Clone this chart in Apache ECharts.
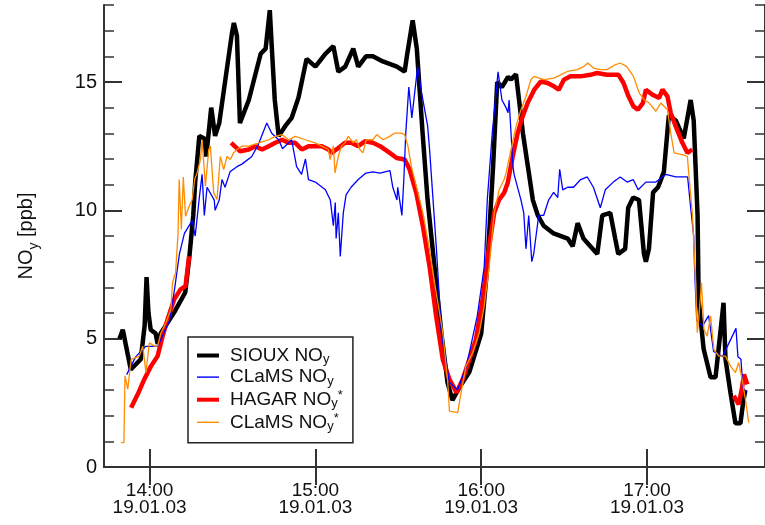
<!DOCTYPE html>
<html lang="en">
<head>
    <meta charset="UTF-8">
    <title>NOy 19.01.03</title>
    <style>
        html, body { margin: 0; padding: 0; background: #fff; }
        #main { width: 765px; height: 525px; }
    </style>
    <script src="https://cdn.jsdelivr.net/npm/echarts@6/dist/echarts.min.js"></script>
</head>
<body>
<div id="main"></div>
<script type="text/javascript">
    // time = minutes since 00:00 (UTC), value = NOy in ppb
    var xTicks = [840, 900, 960, 1020];
    var xTickLabels = ['14:00', '15:00', '16:00', '17:00'];
    var dateLabel = '19.01.03';
    var yMajor = [0, 5, 10, 15];
    var legendNames = ['SIOUX NO_y', 'CLaMS NO_y', 'HAGAR NO_y*', 'CLaMS NO_y*'];

    var siouxData = [
        [829.1,5.0],[830.3,5.35],[833.2,3.8],[836.8,4.2],[838.2,5.5],[838.9,7.4],[839.6,6.0],[840.4,5.35],
        [842.2,5.2],[842.9,4.8],[844.0,5.2],[849.3,6.1],[852.9,6.8],[854.4,8.2],[855.8,9.8],[856.5,11.1],
        [858.0,12.9],[859.8,12.8],[860.5,12.1],[862.3,14.0],[863.7,12.9],[865.2,13.4],[867.3,15.0],[869.8,16.9],
        [870.5,17.3],[871.6,16.8],[872.7,13.4],[875.9,14.3],[880.2,16.1],[882.0,16.3],[883.5,17.8],[884.2,16.4],
        [885.3,14.3],[886.7,12.9],[889.2,13.3],[891.4,13.6],[893.9,14.4],[896.8,15.9],[900.0,15.6],[903.6,16.1],
        [906.5,16.4],[908.3,15.4],[910.8,15.6],[913.7,16.3],[915.5,15.6],[918.3,16.0],[920.8,16.0],[924.4,15.8],
        [929.5,15.6],[932.3,15.4],[933.1,16.0],[935.2,17.4],[936.7,16.3],[938.8,13.0],[940.6,10.4],[943.1,7.8],
        [945.6,5.2],[947.8,3.3],[949.6,2.6],[952.1,3.1],[955.7,3.7],[960.0,5.2],[962.2,7.8],[964.3,11.7],
        [965.8,15.0],[967.5,14.8],[969.7,15.2],[970.8,15.1],[972.6,15.3],[973.7,14.3],[975.1,13.0],[976.9,11.7],
        [978.7,10.4],[980.5,9.8],[982.6,9.4],[986.2,9.1],[991.3,8.9],[993.1,8.6],[994.9,9.5],[997.0,8.9],
        [1002.0,8.3],[1003.8,9.8],[1006.7,9.9],[1008.5,8.9],[1009.6,8.3],[1012.1,8.5],[1013.2,10.1],[1015.0,10.5],
        [1017.1,10.4],[1018.9,8.3],[1019.6,8.0],[1020.7,8.5],[1022.2,10.7],[1024.0,10.9],[1026.1,11.5],[1027.9,13.7],
        [1030.4,13.5],[1033.3,12.8],[1035.8,14.3],[1036.9,13.5],[1038.3,9.8],[1038.7,6.5],[1040.5,4.6],[1043.0,3.5],
        [1044.8,3.5],[1045.9,4.6],[1047.7,6.4],[1048.4,4.2],[1050.2,2.9],[1052.0,1.7],[1053.8,1.7],[1054.9,2.6],
        [1055.6,3.0]
    ];

    var clamsData = [
        [831.7,3.6],[835.0,4.3],[838.6,4.7],[842.9,4.7],[847.2,5.7],[849.0,6.9],[850.8,8.3],[852.6,9.1],
        [855.4,9.6],[856.5,9.0],[858.0,10.5],[859.0,11.4],[859.8,9.8],[860.8,10.9],[863.4,10.4],[863.7,10.0],
        [865.2,10.4],[866.2,11.2],[867.3,10.9],[869.1,11.5],[871.6,11.7],[873.4,11.8],[877.0,12.1],[879.5,12.6],
        [882.4,13.4],[884.2,13.0],[886.7,12.75],[888.1,12.4],[891.4,12.75],[893.2,11.7],[895.0,11.4],[896.4,12.0],
        [897.5,11.2],[900.0,11.1],[903.6,10.8],[905.4,10.4],[906.5,9.4],[907.2,10.3],[907.5,8.9],[908.3,9.9],
        [909.0,8.2],[910.1,9.9],[911.1,10.6],[912.9,10.9],[915.5,11.2],[918.3,11.45],[920.8,11.5],[923.4,11.45],
        [927.0,11.55],[928.0,10.9],[929.5,10.4],[929.8,10.9],[931.3,9.8],[932.0,11.2],[932.7,13.0],[933.8,14.8],
        [934.9,13.6],[937.0,15.6],[938.4,14.6],[940.6,13.3],[941.3,12.4],[943.8,8.5],[945.6,5.2],[948.5,3.3],
        [951.4,3.0],[954.6,3.9],[956.4,4.8],[958.6,5.9],[961.1,7.8],[962.2,10.4],[964.0,13.0],[966.1,15.4],
        [967.5,14.3],[969.0,14.0],[969.7,13.8],[970.1,14.3],[971.5,11.7],[971.9,11.4],[974.4,10.4],[975.4,9.9],
        [976.2,8.5],[977.2,9.8],[978.3,8.0],[979.0,8.3],[980.8,9.8],[982.6,9.8],[984.4,10.4],[986.2,10.7],
        [987.7,10.5],[988.4,11.6],[989.5,10.8],[991.3,10.9],[993.4,10.9],[996.0,11.2],[998.4,11.3],[1000.6,10.9],
        [1003.1,10.1],[1004.9,10.8],[1007.8,11.1],[1010.3,11.3],[1012.8,11.1],[1015.0,11.2],[1016.8,10.8],[1019.6,11.1],
        [1023.2,11.1],[1026.8,11.4],[1030.4,11.3],[1034.7,11.3],[1035.8,10.1],[1036.9,9.0],[1037.2,7.8],[1038.0,5.7],
        [1040.1,5.5],[1042.3,5.9],[1044.1,4.5],[1047.3,4.3],[1052.2,5.4],[1052.9,4.3],[1054.0,4.2],[1054.7,3.1],
        [1056.1,2.9]
    ];

    var hagarData = [
        [833.3,2.31],[835.7,2.83],[838.1,3.42],[840.5,3.93],[842.9,4.32],[844.7,5.1],[846.5,5.75],[848.9,6.53],
        [851.2,6.92],[853.0,7.05],[854.3,8.21],[862.0,null],
        [869.5,12.63],[872.8,12.3],[875.9,12.37],[878.3,12.5],[880.7,12.37],[883.1,12.5],[885.5,12.63],[887.9,12.75],
        [890.3,12.63],[892.7,12.63],[895.1,12.37],[897.5,12.5],[899.9,12.5],[902.3,12.5],[904.7,12.37],[905.9,12.24],
        [908.3,12.43],[910.7,12.63],[913.0,12.63],[915.5,12.5],[917.9,12.69],[920.8,12.63],[923.4,12.5],[926.9,12.24],
        [929.4,12.04],[932.3,11.98],[934.1,11.59],[936.5,10.68],[938.9,9.38],[941.3,7.82],[943.7,5.88],[946.1,4.19],
        [948.5,3.42],[951.1,2.9],[953.3,3.42],[955.7,4.19],[958.1,4.97],[960.5,6.53],[962.9,8.6],[964.7,9.9],
        [966.5,10.42],[968.3,10.68],[969.6,11.07],[971.4,12.1],[973.2,13.01],[975.0,13.66],[976.8,14.18],[979.2,14.7],
        [981.6,15.02],[984.0,14.96],[986.3,14.83],[988.1,14.7],[989.9,15.09],[992.3,15.22],[995.9,15.22],[999.5,15.28],
        [1001.9,15.35],[1005.5,15.28],[1009.7,15.28],[1011.5,14.96],[1013.3,14.44],[1015.1,14.05],[1016.7,13.92],[1018.5,14.18],
        [1019.6,14.7],[1022.0,14.5],[1024.4,14.38],[1025.6,14.7],[1027.4,14.44],[1028.6,13.79],[1030.4,13.27],[1032.8,12.63],
        [1034.6,12.24],[1036.4,12.37],[1044.0,null],
        [1051.4,2.77],[1053.2,2.44],[1054.3,3.03],[1055.1,3.61],[1056.3,3.22]
    ];

    var clamsStarData = [
        [829.7,0.95],[830.7,0.95],[831.1,3.55],[832.1,3.03],[833.3,4.19],[836.3,4.32],[837.5,4.71],[838.7,3.68],
        [839.9,4.84],[841.7,4.71],[842.9,4.71],[844.1,5.23],[845.9,5.62],[847.7,6.14],[848.3,7.18],[849.4,7.57],
        [850.3,9.12],[850.7,11.2],[851.5,9.25],[852.2,11.3],[853.0,9.77],[854.3,10.16],[855.4,10.4],[856.3,11.2],
        [857.2,11.46],[858.4,11.98],[859.0,12.75],[860.2,10.94],[861.4,12.37],[862.0,12.5],[863.2,10.68],[864.4,10.42],
        [865.6,12.1],[866.8,11.59],[868.0,12.1],[869.2,11.98],[870.4,12.24],[871.6,12.37],[873.4,12.5],[875.9,12.5],
        [879.5,12.63],[883.1,12.75],[885.5,12.88],[887.9,12.95],[890.3,12.75],[892.7,12.88],[896.3,12.75],[899.9,12.63],
        [902.3,12.5],[904.7,12.37],[905.3,11.98],[906.5,12.5],[907.1,11.46],[908.3,12.1],[909.4,12.5],[910.7,12.63],
        [911.9,12.88],[913.7,12.63],[914.8,12.75],[916.1,12.37],[917.2,12.24],[918.4,12.75],[920.8,12.75],[922.2,12.95],
        [924.5,12.75],[926.9,12.88],[928.7,13.01],[931.1,13.01],[932.3,12.95],[933.5,12.5],[934.7,11.72],[936.5,10.94],
        [938.9,9.9],[941.3,8.47],[943.7,6.79],[946.1,5.23],[947.9,3.29],[948.5,2.18],[951.5,2.12],[952.7,2.9],
        [954.5,3.93],[956.9,4.45],[959.3,5.23],[961.1,6.27],[962.9,7.82],[964.7,9.9],[966.5,10.8],[968.3,11.2],
        [969.0,11.46],[970.8,12.37],[972.6,13.27],[974.4,13.92],[976.2,14.44],[978.0,15.09],[979.1,15.22],[982.7,15.09],
        [986.3,15.15],[988.7,15.28],[991.2,15.41],[994.7,15.48],[997.1,15.6],[998.6,15.74],[1000.7,15.54],[1003.1,15.48],
        [1005.5,15.48],[1008.5,15.67],[1010.3,15.74],[1012.7,15.6],[1015.1,15.22],[1017.2,14.57],[1019.0,14.31],[1020.8,14.18],
        [1023.2,13.86],[1025.0,14.18],[1027.4,13.92],[1028.6,13.01],[1029.8,12.24],[1032.8,12.17],[1034.6,12.1],[1035.2,11.33],
        [1036.4,9.9],[1037.6,7.18],[1038.2,5.23],[1038.8,5.88],[1039.7,7.18],[1040.6,5.36],[1041.8,5.1],[1043.0,5.88],
        [1044.2,4.58],[1046.0,4.32],[1048.4,4.32],[1050.2,3.93],[1052.0,3.68],[1053.2,4.07],[1054.4,3.42],[1055.6,2.64],
        [1056.8,1.73]
    ];

    var FONT = '"Liberation Sans", Arial, sans-serif';
    var AXIS_COLOR = '#333';
    var THICK_ICON = 'path://M0,0L22,0L22,4L0,4Z';
    var THIN_ICON = 'path://M0,0L22,0L22,1.4L0,1.4Z';

    var myChart = echarts.init(document.getElementById('main'), null, {renderer: 'canvas'});

    function legendText(name) {
        // 'HAGAR NO_y*' -> rich text with subscript y and raised star
        var star = name.charAt(name.length - 1) === '*';
        var base = name.replace('_y', '').replace('*', '');
        return '{t|' + base + '}{s|y}' + (star ? '{p|*}' : '');
    }

    var yCommon = {type: 'value', min: 0, max: 18, splitLine: {show: false}};

    var option = {
        backgroundColor: '#fff',
        animation: false,
        textStyle: {fontFamily: FONT},
        grid: {left: 104, top: 5, right: -5, bottom: 58},
        legend: {
            left: 188, top: 337,
            orient: 'vertical',
            backgroundColor: '#fff',
            borderColor: '#222', borderWidth: 1.5, borderRadius: 0,
            padding: [9, 10, 10, 9],
            itemWidth: 22, itemHeight: 12, itemGap: 1.6,
            symbolKeepAspect: true,
            data: [
                {name: legendNames[0], icon: THICK_ICON},
                {name: legendNames[1], icon: THIN_ICON},
                {name: legendNames[2], icon: THICK_ICON},
                {name: legendNames[3], icon: THIN_ICON}
            ],
            formatter: legendText,
            textStyle: {
                fontFamily: FONT, color: '#111', fontSize: 19,
                rich: {
                    t: {fontFamily: FONT, fontSize: 19, color: '#111', lineHeight: 21, padding: [0, 0, 0, 6]},
                    s: {fontFamily: FONT, fontSize: 13, color: '#111', lineHeight: 4, verticalAlign: 'bottom'},
                    p: {fontFamily: FONT, fontSize: 13, color: '#111', lineHeight: 4, verticalAlign: 'top'}
                }
            }
        },
        xAxis: [{
            type: 'value', position: 'bottom', min: 823.5, max: 1062.7,
            axisLine: {lineStyle: {color: AXIS_COLOR, width: 2}},
            axisTick: {inside: true, length: 18, customValues: xTicks, lineStyle: {color: AXIS_COLOR, width: 2}},
            axisLabel: {
                customValues: xTicks, margin: 15, color: '#111', fontFamily: FONT, fontSize: 19, lineHeight: 17,
                formatter: function (v) {
                    var i = xTicks.indexOf(v);
                    return (i < 0 ? '' : xTickLabels[i]) + '\n' + dateLabel;
                }
            },
            splitLine: {show: false}
        }, {
            type: 'value', position: 'top', min: 823.5, max: 1062.7,
            axisLine: {lineStyle: {color: AXIS_COLOR, width: 2}},
            axisTick: {inside: true, length: 18, customValues: xTicks, lineStyle: {color: AXIS_COLOR, width: 2}},
            axisLabel: {show: false},
            splitLine: {show: false}
        }],
        yAxis: [
            echarts.util.extend({
                position: 'left',
                name: '{a|NO}{b|y}{a| [ppb]}',
                nameLocation: 'middle', nameRotate: 90, nameGap: 68,
                nameTextStyle: {
                    rich: {
                        a: {fontFamily: FONT, fontSize: 20, color: '#111', lineHeight: 22, verticalAlign: 'bottom'},
                        b: {fontFamily: FONT, fontSize: 14, color: '#111', lineHeight: 10, verticalAlign: 'bottom', padding: [0, 0, -5, 0]}
                    }
                },
                axisLine: {show: true, lineStyle: {color: AXIS_COLOR, width: 2}},
                axisTick: {inside: true, length: 18, customValues: yMajor, lineStyle: {color: AXIS_COLOR, width: 2}},
                axisLabel: {customValues: yMajor, margin: 7, color: '#111', fontFamily: FONT, fontSize: 20}
            }, yCommon),
            echarts.util.extend({
                position: 'left', interval: 1,
                axisLine: {show: false},
                axisTick: {inside: true, length: 10, lineStyle: {color: AXIS_COLOR, width: 1.5}},
                axisLabel: {show: false}
            }, yCommon),
            echarts.util.extend({
                position: 'right', interval: 1,
                axisLine: {show: true, lineStyle: {color: AXIS_COLOR, width: 2}},
                axisTick: {inside: true, length: 10, lineStyle: {color: AXIS_COLOR, width: 1.5}},
                axisLabel: {show: false}
            }, yCommon),
            echarts.util.extend({
                position: 'right',
                axisLine: {show: false},
                axisTick: {inside: true, length: 18, customValues: yMajor, lineStyle: {color: AXIS_COLOR, width: 2}},
                axisLabel: {show: false}
            }, yCommon)
        ],
        series: [{
            name: legendNames[0], type: 'line', data: siouxData,
            showSymbol: false, symbol: 'none', z: 2,
            lineStyle: {color: '#000', width: 4.5}, itemStyle: {color: '#000'}
        }, {
            name: legendNames[2], type: 'line', data: hagarData,
            showSymbol: false, symbol: 'none', z: 3,
            lineStyle: {color: '#ff0000', width: 4.5}, itemStyle: {color: '#ff0000'}
        }, {
            name: legendNames[1], type: 'line', data: clamsData,
            showSymbol: false, symbol: 'none', z: 4,
            lineStyle: {color: '#0000ff', width: 1.3}, itemStyle: {color: '#0000ff'}
        }, {
            name: legendNames[3], type: 'line', data: clamsStarData,
            showSymbol: false, symbol: 'none', z: 5,
            lineStyle: {color: '#ff8c00', width: 1.3}, itemStyle: {color: '#ff8c00'}
        }]
    };

    myChart.setOption(option);
</script>
</body>
</html>
